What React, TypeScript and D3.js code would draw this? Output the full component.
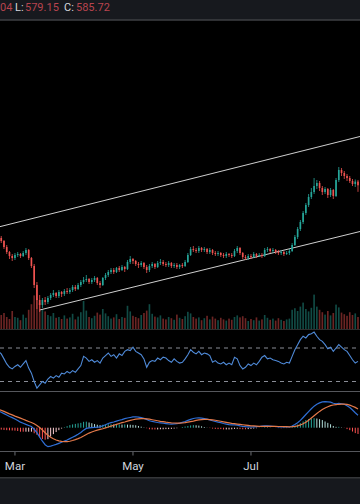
import React from 'react';
import * as d3 from 'd3';

const startDay = new Date(2024, 1, 22);
const tickLabels = ['Mar', 'May', 'Jul'];
const tickMonths = [2, 4, 6];

const opens = [
  536, 533, 530, 524, 519, 515, 513, 516, 517, 515,
  518, 521, 513, 505, 486, 471, 466, 471, 469, 473,
  476, 478, 475, 479, 477, 480, 479, 481, 484, 482,
  486, 489, 491, 492, 489, 491, 493, 488, 486, 493,
  496, 499, 501, 499, 503, 501, 504, 502, 509, 512,
  510, 507, 506, 508, 504, 501, 505, 507, 504, 508,
  509, 507, 506, 508, 505, 506, 504, 506, 505, 509,
  516, 522, 521, 520, 523, 521, 522, 519, 521, 518,
  517, 518, 516, 515, 517, 516, 515, 520, 523, 518,
  514, 513, 515, 514, 517, 515, 516, 515, 521, 522,
  520, 521, 519, 518, 519, 517, 518, 520, 526, 534,
  542, 549, 558, 566, 574, 579, 585, 588, 583, 579,
  582, 576, 581, 575, 591, 601, 598, 595, 593, 590,
  587, 589.4,
];
const highs = [
  538, 535, 531, 526, 520, 517, 518, 519, 518, 520,
  523, 522, 514, 507, 489, 476, 473, 474, 475, 478,
  481, 479, 481, 480, 482, 483, 483, 486, 486, 488,
  491, 494, 496, 493, 493, 495, 494, 490, 494, 498,
  501, 503, 503, 504, 505, 506, 505, 511, 515, 513,
  511, 509, 510, 509, 506, 507, 509, 508, 510, 512,
  511, 509, 510, 509, 508, 508, 507, 508, 511, 518,
  524, 525, 523, 525, 524, 524, 523, 523, 522, 520,
  520, 519, 518, 519, 518, 518, 522, 525, 524, 519,
  516, 517, 517, 519, 518, 518, 518, 523, 524, 523,
  523, 522, 521, 521, 520, 520, 522, 528, 536, 544,
  551, 560, 568, 577, 583, 593, 591, 590, 585, 584,
  583, 583, 582, 593, 604, 603, 600, 597, 595, 592,
  591.5, 591.04,
];
const lows = [
  531, 528, 522, 517, 512, 510, 511, 514, 513, 514,
  516, 511, 503, 483, 462, 459, 463, 466, 467, 471,
  474, 473, 473, 474, 475, 477, 477, 479, 480, 481,
  484, 487, 489, 487, 487, 489, 486, 483, 485, 491,
  494, 497, 497, 498, 499, 500, 499, 501, 507, 507,
  505, 503, 504, 502, 498, 499, 503, 502, 503, 506,
  505, 504, 504, 503, 503, 502, 502, 503, 504, 508,
  515, 519, 518, 518, 519, 519, 517, 517, 516, 515,
  515, 514, 513, 513, 514, 513, 514, 518, 516, 512,
  511, 511, 512, 513, 513, 514, 513, 514, 519, 518,
  518, 517, 516, 516, 515, 516, 516, 519, 525, 532,
  540, 547, 556, 564, 572, 577, 582, 580, 576, 577,
  573, 574, 572, 574, 589, 595, 592, 590, 588, 585,
  584, 579.15,
];
const closes = [
  533, 530, 524, 519, 515, 513, 516, 517, 515, 518,
  521, 513, 505, 486, 471, 466, 471, 469, 473, 476,
  478, 475, 479, 477, 480, 479, 481, 484, 482, 486,
  489, 491, 492, 489, 491, 493, 488, 486, 493, 496,
  499, 501, 499, 503, 501, 504, 502, 509, 512, 510,
  507, 506, 508, 504, 501, 505, 507, 504, 508, 509,
  507, 506, 508, 505, 506, 504, 506, 505, 509, 516,
  522, 521, 520, 523, 521, 522, 519, 521, 518, 517,
  518, 516, 515, 517, 516, 515, 520, 523, 518, 514,
  513, 515, 514, 517, 515, 516, 515, 521, 522, 520,
  521, 519, 518, 519, 517, 518, 520, 526, 534, 542,
  549, 558, 566, 574, 579, 585, 588, 583, 579, 582,
  576, 581, 575, 591, 601, 598, 595, 593, 590, 587,
  589.4, 585.72,
];
// volume, millions
const volumes = [
  5.5, 3.5, 4.0, 3.0, 2.5, 4.5, 3.0, 2.8, 2.2, 3.6,
  2.8, 4.8, 6.2, 8.4, 7.6, 6.5, 5.0, 4.4, 3.5, 3.2,
  4.0, 2.8, 3.0, 2.5, 3.4, 2.6, 2.9, 3.8, 2.4, 3.1,
  4.2, 7.0, 4.6, 3.0, 2.7, 3.3, 4.1, 3.6, 5.0, 3.9,
  3.2, 2.6, 2.9, 3.7, 2.5, 3.0, 2.8, 5.8, 4.4, 3.3,
  3.0, 2.7, 3.5, 4.0, 4.6, 6.2, 3.8, 3.1, 2.9, 3.4,
  2.6, 2.4, 3.0, 2.7, 2.3, 3.6, 2.8, 2.5, 3.2, 4.3,
  3.9, 3.0, 2.6, 2.9, 2.2, 2.7, 3.3, 2.4, 3.1, 2.6,
  2.2, 2.8, 2.4, 2.1, 2.6, 2.3, 3.0, 3.4, 2.9, 3.2,
  2.7, 2.0, 2.5, 2.2, 2.9, 2.1, 2.4, 3.5, 2.8, 2.3,
  2.6, 2.1, 2.7, 2.3, 2.0, 2.4, 2.6, 4.8, 5.2, 4.5,
  5.6, 6.6, 5.0, 4.4, 5.3, 8.6, 5.6, 4.8, 4.2, 3.6,
  4.5, 3.4, 4.0, 6.1, 5.4, 4.1, 3.7, 3.3, 4.2, 3.5,
  3.9, 3.0,
];
const rsi = [
  66, 63, 57, 51, 47, 45, 48, 50, 47, 51,
  55, 46, 40, 30, 22, 26, 30, 28, 33, 36,
  34, 37, 35, 40, 39, 42, 40, 43, 41, 45,
  49, 60, 58, 54, 56, 53, 55, 52, 58, 61,
  64, 60, 62, 58, 63, 61, 66, 68, 67, 71,
  66, 64, 62, 57, 47, 53, 55, 54, 58, 56,
  59, 58, 55, 53, 57, 54, 52, 53, 57, 62,
  68, 65, 63, 66, 62, 64, 63, 61, 53, 55,
  52, 51, 53, 50, 52, 50, 59, 57, 49, 45,
  47, 51, 49, 52, 50, 54, 59, 61, 57, 58,
  56, 55, 54, 52, 51, 53, 52, 60, 68, 74,
  80, 84, 82, 86, 87, 89, 84, 80, 78, 74,
  69, 71, 66, 70, 74, 71, 68, 66, 61, 56,
  52, 54,
];
const macd = [
  9.6, 8.9, 8.1, 7.3, 6.5, 5.8, 5.0, 4.2, 3.2, 2.6,
  1.9, 1.3, 0.7, -0.9, -2.8, -5.4, -7.8, -9.8, -10.9, -10.6,
  -10.1, -9.6, -9.0, -8.4, -7.7, -7.1, -6.3, -5.5, -4.7, -3.8,
  -2.8, -1.4, -0.4, -0.1, 0.1, 0.2, 0.3, 0.5, 1.1, 1.7,
  2.4, 2.9, 3.3, 3.8, 4.3, 4.7, 5.2, 5.6, 5.9, 6.2,
  6.3, 6.1, 5.8, 5.4, 4.8, 4.0, 3.6, 3.3, 3.0, 2.8,
  2.6, 2.4, 2.2, 2.1, 2.2, 2.3, 2.6, 3.1, 3.6, 4.2,
  4.8, 5.3, 5.6, 5.7, 5.5, 5.2, 4.9, 4.5, 4.0, 3.6,
  3.2, 2.9, 2.4, 2.1, 1.8, 1.6, 1.6, 1.5, 1.1, 0.8,
  0.6, 0.5, 0.4, 0.5, 0.6, 0.7, 0.9, 1.1, 1.0, 0.9,
  0.8, 0.7, 0.5, 0.4, 0.4, 0.4, 0.4, 1.0, 1.9, 2.9,
  4.2, 5.9, 7.6, 9.3, 10.9, 12.4, 13.5, 14.3, 14.9, 15.0,
  14.9, 14.7, 14.1, 13.8, 14.0, 13.8, 13.5, 12.6, 11.6, 10.2,
  8.6, 7.2,
];
const signal = [
  10.6, 10.0, 9.4, 8.7, 8.0, 7.4, 6.7, 6.1, 5.5, 4.9,
  4.2, 3.6, 3.0, 2.3, 1.3, 0.1, -1.3, -2.9, -4.3, -5.5,
  -6.4, -7.1, -7.6, -7.9, -8.0, -8.0, -7.8, -7.4, -6.9, -6.3,
  -5.6, -4.8, -3.9, -3.1, -2.5, -1.9, -1.4, -1.0, -0.6, -0.1,
  0.4, 0.9, 1.4, 1.9, 2.4, 2.9, 3.3, 3.8, 4.2, 4.6,
  4.9, 5.1, 5.2, 5.2, 5.1, 4.9, 4.6, 4.3, 4.0, 3.7,
  3.5, 3.2, 3.0, 2.8, 2.7, 2.6, 2.6, 2.7, 2.9, 3.2,
  3.5, 3.8, 4.2, 4.5, 4.7, 4.8, 4.8, 4.7, 4.5, 4.3,
  4.0, 3.7, 3.4, 3.1, 2.8, 2.5, 2.3, 2.1, 1.9, 1.7,
  1.5, 1.3, 1.1, 1.0, 0.9, 0.8, 0.8, 0.8, 0.8, 0.8,
  0.8, 0.8, 0.7, 0.7, 0.6, 0.6, 0.5, 0.6, 0.8, 1.1,
  1.6, 2.3, 3.2, 4.3, 5.6, 6.9, 8.2, 9.4, 10.5, 11.4,
  12.1, 12.7, 13.1, 13.3, 13.5, 13.6, 13.6, 13.4, 13.0, 12.4,
  11.7, 10.8,
];
// channel drawing: [bar index, price]
const upperChannel = [[0, 544], [131, 634]];
const lowerChannel = [[15, 461], [131, 539]];

const UP = '#26a69a';
const DOWN = '#ef5350';
const FONT = 'Roboto, "Noto Sans", sans-serif';

function tradingDays(start: Date, n: number) {
  const out: Date[] = [];
  const d = new Date(start);
  while (out.length < n) {
    const wd = d.getDay();
    if (wd !== 0 && wd !== 6) out.push(new Date(d));
    d.setDate(d.getDate() + 1);
  }
  return out;
}

function extend(pts: number[][], from: number, to: number) {
  const [[i0, p0], [i1, p1]] = pts;
  const at = (i: number) => p0 + ((p1 - p0) * (i - i0)) / (i1 - i0);
  return [[from, at(from)], [to, at(to)]];
}

export default function App() {
  const n = closes.length;
  const dates = tradingDays(startDay, n);

  const x = d3.scaleBand<number>()
    .domain(d3.range(n))
    .range([-2.87, 359.37])
    .paddingInner(0.4)
    .paddingOuter(0.2);
  const bw = x.bandwidth();
  const cx = (i: number) => (x(i) as number) + bw / 2;
  const xi = d3.scaleLinear().domain([0, n - 1]).range([cx(0), cx(n - 1)]);

  const y = d3.scaleLinear().domain([443, 750]).range([328, 21]);
  const yVol = d3.scaleLinear().domain([0, 10]).range([329, 289]);
  const yRsi = d3.scaleLinear().domain([30, 70]).range([381.5, 348]);
  const yMacd = d3.scaleLinear().domain([-14, 20]).range([452, 393]);

  const up = (i: number) => closes[i] >= opens[i];

  const chanLine = d3.line<number[]>().x(d => xi(d[0])).y(d => y(d[1]));
  const rsiLine = d3.line<number>().x((d, i) => cx(i)).y(d => yRsi(d));
  const macdLine = d3.line<number>().x((d, i) => cx(i)).y(d => yMacd(d));

  const hist = macd.map((m, i) => m - signal[i]);
  const histColor = (i: number) => {
    const h = hist[i];
    const prev = i > 0 ? hist[i - 1] : h;
    if (h >= 0) return h >= prev ? '#26a69a' : '#b2dfdb';
    return h < prev ? '#ff5252' : '#ffcdd2';
  };

  const ticks = tickMonths.map((m, k) => ({
    label: tickLabels[k],
    i: dates.findIndex(d => d.getMonth() === m),
  }));

  return (
    <svg width={360} height={504} style={{ position: 'absolute', left: 0, top: 0, display: 'block' }}>
      <defs>
        <clipPath id="mainClip"><rect x={0} y={20.5} width={360} height={308.5} /></clipPath>
        <clipPath id="rsiClip"><rect x={0} y={330} width={360} height={61} /></clipPath>
        <clipPath id="macdClip"><rect x={0} y={392} width={360} height={59} /></clipPath>
      </defs>
      <rect x={0} y={0} width={360} height={504} fill="#000" />

      {/* header */}
      <rect x={0} y={0} width={360} height={19.5} fill="#17191e" />
      <line x1={0} x2={360} y1={20} y2={20} stroke="#5c5e64" strokeWidth={1} />
      <text y={11} fontFamily={FONT} fontSize={11}>
        <tspan x={0} fill="#b8444e">04</tspan>
        <tspan x={15} fill="#d6d8de">L:</tspan>
        <tspan x={25} fill="#b8444e">579.15</tspan>
        <tspan x={64} fill="#d6d8de">C:</tspan>
        <tspan x={76} fill="#b8444e">585.72</tspan>
      </text>

      {/* main pane */}
      <g clipPath="url(#mainClip)">
        <g>
          {volumes.map((v, i) => (
            <rect key={i} x={x(i)} width={bw} y={yVol(v)} height={yVol(0) - yVol(v)}
              fill={up(i) ? UP : DOWN} fillOpacity={0.45} />
          ))}
        </g>
        <path d={chanLine(extend(upperChannel, -2, n + 1)) as string} fill="none" stroke="#cfcfcf" strokeWidth={1} />
        <path d={chanLine(extend(lowerChannel, lowerChannel[0][0], n + 1)) as string} fill="none" stroke="#cfcfcf" strokeWidth={1} />
        <g>
          {closes.map((c, i) => {
            const col = up(i) ? UP : DOWN;
            const top = y(Math.max(opens[i], c));
            const bot = y(Math.min(opens[i], c));
            return (
              <g key={i}>
                <line x1={cx(i)} x2={cx(i)} y1={y(highs[i])} y2={y(lows[i])} stroke={col} strokeWidth={0.8} />
                <rect x={x(i)} width={bw} y={top} height={Math.max(0.8, bot - top)} fill={col} />
              </g>
            );
          })}
        </g>
      </g>
      <line x1={0} x2={360} y1={329.5} y2={329.5} stroke="#2e2e2e" strokeWidth={1} />

      {/* RSI pane */}
      <g clipPath="url(#rsiClip)">
        {[70, 30].map(v => (
          <line key={v} x1={0} x2={360} y1={yRsi(v)} y2={yRsi(v)} stroke="#8a8d96" strokeWidth={1} strokeDasharray="4,4" />
        ))}
        <path d={rsiLine(rsi) as string} fill="none" stroke="#4f8ad8" strokeWidth={1.1} />
      </g>
      <line x1={0} x2={360} y1={391.5} y2={391.5} stroke="#55575c" strokeWidth={1} />

      {/* MACD pane */}
      <g clipPath="url(#macdClip)">
        {hist.map((h, i) => (
          <rect key={i} x={cx(i) - 0.5} width={1} y={Math.min(yMacd(h), yMacd(0))}
            height={Math.abs(yMacd(h) - yMacd(0))} fill={histColor(i)} />
        ))}
        <path d={macdLine(macd) as string} fill="none" stroke="#2f6fd6" strokeWidth={1.2} />
        <path d={macdLine(signal) as string} fill="none" stroke="#e3794a" strokeWidth={1.2} />
      </g>
      <line x1={0} x2={360} y1={451.5} y2={451.5} stroke="#55575c" strokeWidth={1} />

      {/* time axis */}
      {ticks.map(t => (
        <g key={t.label}>
          <line x1={cx(t.i)} x2={cx(t.i)} y1={452} y2={455.5} stroke="#6a6c72" strokeWidth={1} />
          <text x={cx(t.i)} y={470} textAnchor="middle" fontFamily={FONT} fontSize={11.5} fill="#d1d4dc">{t.label}</text>
        </g>
      ))}
      <line x1={0} x2={360} y1={478} y2={478} stroke="#6a6c72" strokeWidth={1} />
      <rect x={0} y={478.5} width={360} height={25.5} fill="#16181d" />
    </svg>
  );
}
